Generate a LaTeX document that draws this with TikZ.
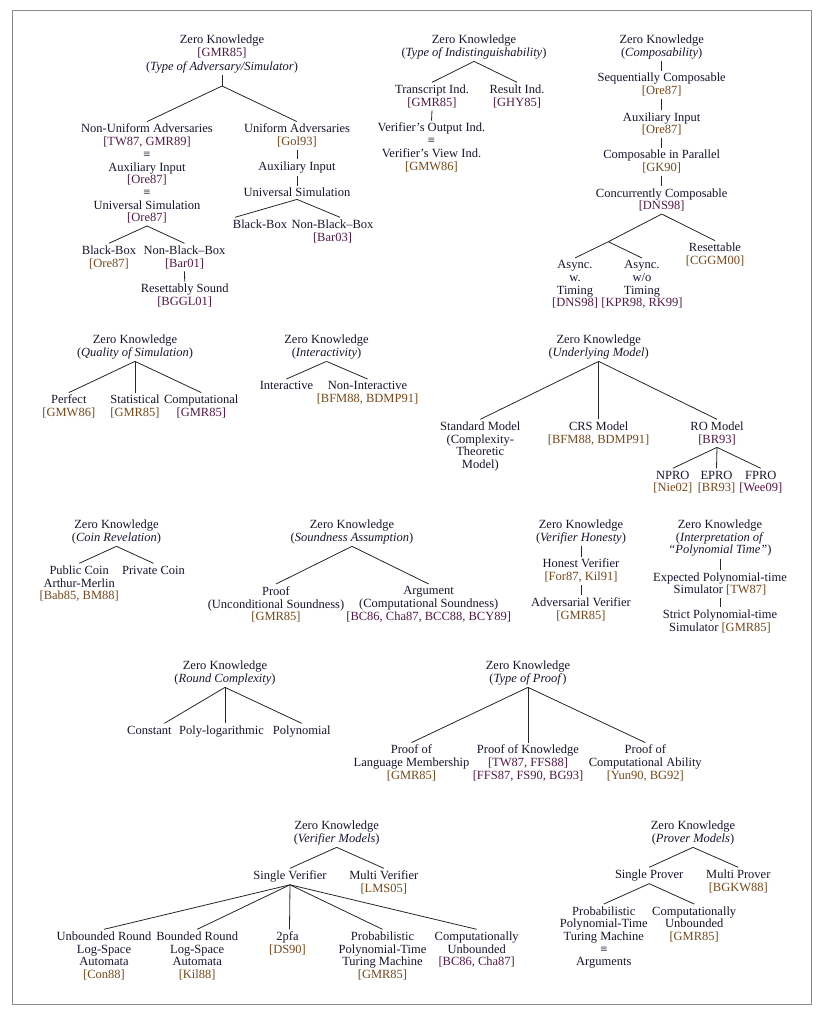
\documentclass[tikz,border=0pt]{standalone}
\usepackage{fontspec}
\setmainfont{Liberation Serif}
\usepackage{tikz}
\definecolor{txt}{HTML}{15152E}
\definecolor{citp}{HTML}{521A46}
\definecolor{cito}{HTML}{74481A}
\definecolor{frame}{HTML}{8A8A8A}
\newcommand\citP[1]{\textcolor{citp}{#1}}
\newcommand\citO[1]{\textcolor{cito}{#1}}
\newcommand\zk{Zero Knowledge}
\newcommand\eqv{≡}
\begin{document}
\begin{tikzpicture}[x=1pt,y=-1pt,
  t/.style={font=\fontsize{12.5}{12.7}\selectfont, align=center, inner xsep=0pt, inner ysep=2.3pt, anchor=north, yshift=6.7pt, text=txt},
  edge/.style={draw=black!85, line width=0.8pt}]
\useasboundingbox (0,0) rectangle (821,1013);
\draw[frame, line width=0.8pt] (12,10) rectangle (811,1004);

% ---------- Tree 1: Type of Adversary/Simulator
\node[t] (r1) at (222,39) {\zk\\[0.6pt]\citP{[GMR85]}\\[0.6pt](\textit{Type of Adversary/Simulator})};
\coordinate (r1b) at (222,86);
\node[t] (n1a) at (147,128.3) {Non-Uniform Adversaries\\\citP{[TW87, GMR89]}\\\eqv\\Auxiliary Input\\\citP{[Ore87]}\\\eqv\\Universal Simulation\\\citP{[Ore87]}};
\node[t] (n1aa) at (109,250) {Black-Box\\\citO{[Ore87]}};
\node[t] (n1ab) at (184.5,250) {Non-Black--Box\\\citP{[Bar01]}};
\node[t] (n1aba) at (184.7,288.3) {Resettably Sound\\\citP{[BGGL01]}};
\node[t] (n1b) at (297,128.3) {Uniform Adversaries\\\citO{[Gol93]}};
\node[t] (n1ba) at (297,166) {Auxiliary Input};
\node[t] (n1bb) at (297,192.3) {Universal Simulation};
\node[t] (n1bba) at (260,224) {Black-Box};
\node[t] (n1bbb) at (332.5,224) {Non-Black--Box\\\citP{[Bar03]}};
\draw[edge] (r1.south) -- (r1b);
\draw[edge] (r1b) -- (n1a.north);
\draw[edge] (r1b) -- (n1b.north);
\draw[edge] (n1a.south) -- (n1aa.north);
\draw[edge] (n1a.south) -- (n1ab.north);
\draw[edge] (n1ab.south) -- (n1aba.north);
\draw[edge] (n1b.south) -- (n1ba.north);
\draw[edge] (n1ba.south) -- (n1bb.north);
\draw[edge] (n1bb.south) -- ([xshift=-25pt]n1bba.north);
\draw[edge] (n1bb.south) -- ([xshift=7.5pt]n1bbb.north);

% ---------- Tree 2: Type of Indistinguishability
\node[t] (r2) at (474,39) {\zk\\(\textit{Type of Indistinguishability})};
\node[t] (n2a) at (432,89) {Transcript Ind.\\\citP{[GMR85]}};
\node[t] (n2b) at (517,89) {Result Ind.\\\citP{[GHY85]}};
\node[t] (n2aa) at (431.5,127.3) {Verifier’s Output Ind.\\\eqv\\Verifier’s View Ind.\\\citO{[GMW86]}};
\draw[edge] (r2.south) -- (n2a.north);
\draw[edge] (r2.south) -- (n2b.north);
\draw[edge] (n2a.south) -- (n2aa.north);

% ---------- Tree 3: Composability
\node[t] (r3) at (661.7,39) {\zk\\(\textit{Composability})};
\node[t] (n3a) at (661.7,77.3) {Sequentially Composable\\\citO{[Ore87]}};
\node[t] (n3b) at (661.7,116.7) {Auxiliary Input\\\citO{[Ore87]}};
\node[t] (n3c) at (661.7,154.3) {Composable in Parallel\\\citO{[GK90]}};
\node[t] (n3d) at (661.7,192.7) {Concurrently Composable\\\citP{[DNS98]}};
\coordinate (n3x) at (608.3,241.7);
\node[t] (n3e) at (575,264.7) {Async.\\w.\\Timing\\\citP{[DNS98]}};
\node[t] (n3f) at (642,264.7) {Async.\\w/o\\Timing\\\citP{[KPR98, RK99]}};
\node[t] (n3g) at (715,247.3) {Resettable\\\citO{[CGGM00]}};
\draw[edge] (r3.south) -- (n3a.north);
\draw[edge] (n3a.south) -- (n3b.north);
\draw[edge] (n3b.south) -- (n3c.north);
\draw[edge] (n3c.south) -- (n3d.north);
\draw[edge] (n3d.south) -- (n3x);
\draw[edge] (n3d.south) -- (n3g.north);
\draw[edge] (n3x) -- (n3e.north);
\draw[edge] (n3x) -- (n3f.north);

% ---------- Tree 4: Quality of Simulation
\node[t] (r4) at (135,339) {\zk\\(\textit{Quality of Simulation})};
\node[t] (n4a) at (68.8,399.3) {Perfect\\\citO{[GMW86]}};
\node[t] (n4b) at (135,399.3) {Statistical\\\citO{[GMR85]}};
\node[t] (n4c) at (201.3,399.3) {Computational\\\citP{[GMR85]}};
\draw[edge] (r4.south) -- (n4a.north);
\draw[edge] (r4.south) -- (n4b.north);
\draw[edge] (r4.south) -- (n4c.north);

% ---------- Tree 5: Interactivity
\node[t] (r5) at (326.5,339) {\zk\\(\textit{Interactivity})};
\node[t] (n5a) at (286.5,385.7) {Interactive};
\node[t] (n5b) at (367.5,385.7) {Non-Interactive\\\citO{[BFM88, BDMP91]}};
\draw[edge] (r5.south) -- (n5a.north);
\draw[edge] (r5.south) -- (n5b.north);

% ---------- Tree 6: Underlying Model
\node[t] (r6) at (598.7,339) {\zk\\(\textit{Underlying Model})};
\node[t] (n6a) at (480.3,426) {Standard Model\\(Complexity-\\Theoretic\\Model)};
\node[t] (n6b) at (598.7,426) {CRS Model\\\citO{[BFM88, BDMP91]}};
\node[t] (n6c) at (717,426) {RO Model\\\citP{[BR93]}};
\node[t] (n6ca) at (672.8,475) {NPRO\\\citO{[Nie02]}};
\node[t] (n6cb) at (716.5,475) {EPRO\\\citO{[BR93]}};
\node[t] (n6cc) at (760.8,475) {FPRO\\\citP{[Wee09]}};
\draw[edge] (r6.south) -- (n6a.north);
\draw[edge] (r6.south) -- (n6b.north);
\draw[edge] (r6.south) -- (n6c.north);
\draw[edge] (n6c.south) -- (n6ca.north);
\draw[edge] (n6c.south) -- (n6cb.north);
\draw[edge] (n6c.south) -- (n6cc.north);

% ---------- Tree 7: Coin Revelation
\node[t] (r7) at (116.5,524) {\zk\\(\textit{Coin Revelation})};
\node[t] (n7a) at (79.2,570) {Public Coin\\Arthur-Merlin\\\citO{[Bab85, BM88]}};
\node[t] (n7b) at (153.5,570) {Private Coin};
\draw[edge] (r7.south) -- (n7a.north);
\draw[edge] (r7.south) -- (n7b.north);

% ---------- Tree 8: Soundness Assumption
\node[t] (r8) at (352,524) {\zk\\(\textit{Soundness Assumption})};
\node[t] (n8a) at (276,590.7) {Proof\\(Unconditional Soundness)\\\citO{[GMR85]}};
\node[t] (n8b) at (428.7,590.7) {Argument\\(Computational Soundness)\\\citP{[BC86, Cha87, BCC88, BCY89]}};
\draw[edge] (r8.south) -- (n8a.north);
\draw[edge] (r8.south) -- (n8b.north);

% ---------- Tree 9: Verifier Honesty
\node[t] (r9) at (581,524) {\zk\\(\textit{Verifier Honesty})};
\node[t] (n9a) at (581,563.3) {Honest Verifier\\\citO{[For87, Kil91]}};
\node[t] (n9b) at (581,601.7) {Adversarial Verifier\\\citO{[GMR85]}};
\draw[edge] (r9.south) -- (n9a.north);
\draw[edge] (n9a.south) -- (n9b.north);

% ---------- Tree 10: Interpretation of Polynomial Time
\node[t] (r10) at (720,524) {\zk\\(\textit{Interpretation of}\\\textit{“Polynomial Time”})};
\node[t] (n10a) at (720,576.7) {Expected Polynomial-time\\Simulator \citO{[TW87]}};
\node[t] (n10b) at (720,614) {Strict Polynomial-time\\Simulator \citO{[GMR85]}};
\draw[edge] (r10.south) -- (n10a.north);
\draw[edge] (n10a.south) -- (n10b.north);

% ---------- Tree 11: Round Complexity
\node[t] (r11) at (225,665) {\zk\\(\textit{Round Complexity})};
\node[t] (n11a) at (149.4,730) {Constant};
\node[t] (n11b) at (221.5,730) {Poly-logarithmic};
\node[t] (n11c) at (301.7,730) {Polynomial};
\draw[edge] (r11.south) -- ([xshift=15pt]n11a.north);
\draw[edge] (r11.south) -- ([xshift=3.5pt]n11b.north);
\draw[edge] (r11.south) -- (n11c.north);

% ---------- Tree 12: Type of Proof
\node[t] (r12) at (528,665) {\zk\\(\textit{Type of Proof})};
\node[t] (n12a) at (411.5,749.3) {Proof of\\Language Membership\\\citO{[GMR85]}};
\node[t] (n12b) at (528,749.3) {Proof of Knowledge\\\citP{[TW87, FFS88]}\\\citP{[FFS87, FS90, BG93]}};
\node[t] (n12c) at (645.3,749.3) {Proof of\\Computational Ability\\\citO{[Yun90, BG92]}};
\draw[edge] (r12.south) -- (n12a.north);
\draw[edge] (r12.south) -- (n12b.north);
\draw[edge] (r12.south) -- (n12c.north);

% ---------- Tree 13: Verifier Models
\node[t] (r13) at (336.7,825) {\zk\\(\textit{Verifier Models})};
\node[t] (n13a) at (290,875) {Single Verifier};
\node[t] (n13b) at (383.8,875) {Multi Verifier\\\citO{[LMS05]}};
\node[t] (n13c) at (104,936) {Unbounded Round\\Log-Space\\Automata\\\citO{[Con88]}};
\node[t] (n13d) at (197.2,936) {Bounded Round\\Log-Space\\Automata\\\citO{[Kil88]}};
\node[t] (n13e) at (287.5,936) {2pfa\\\citO{[DS90]}};
\node[t] (n13f) at (382.5,936) {Probabilistic\\Polynomial-Time\\Turing Machine\\\citO{[GMR85]}};
\node[t] (n13g) at (476.7,936) {Computationally\\Unbounded\\\citP{[BC86, Cha87]}};
\draw[edge] (r13.south) -- (n13a.north);
\draw[edge] (r13.south) -- (n13b.north);
\draw[edge] (n13a.south) -- (n13c.north);
\draw[edge] (n13a.south) -- (n13d.north);
\draw[edge] (n13a.south) -- ([xshift=2pt]n13e.north);
\draw[edge] (n13a.south) -- (n13f.north);
\draw[edge] (n13a.south) -- (n13g.north);

% ---------- Tree 14: Prover Models
\node[t] (r14) at (693,825) {\zk\\(\textit{Prover Models})};
\node[t] (n14a) at (649.2,874) {Single Prover};
\node[t] (n14b) at (738.3,874) {Multi Prover\\\citO{[BGKW88]}};
\node[t] (n14c) at (603.8,910.7) {Probabilistic\\Polynomial-Time\\Turing Machine\\\eqv\\Arguments};
\node[t] (n14d) at (694.2,910.7) {Computationally\\Unbounded\\\citO{[GMR85]}};
\draw[edge] (r14.south) -- (n14a.north);
\draw[edge] (r14.south) -- (n14b.north);
\draw[edge] (n14a.south) -- (n14c.north);
\draw[edge] (n14a.south) -- (n14d.north);
\end{tikzpicture}
\end{document}
